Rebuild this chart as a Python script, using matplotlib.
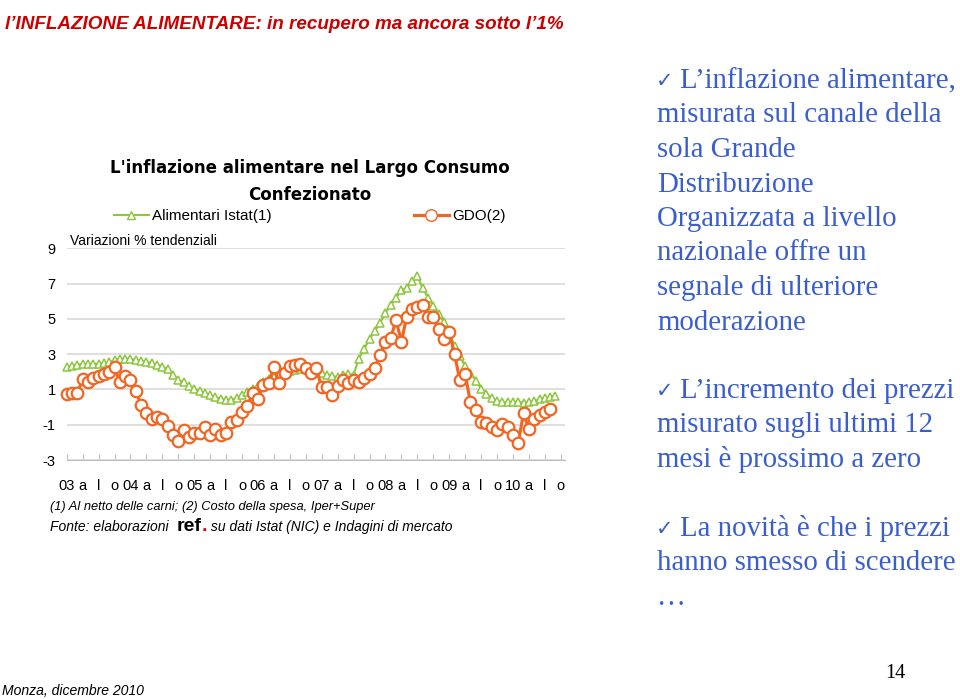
import numpy as np
import matplotlib
matplotlib.use("Agg")
import matplotlib.pyplot as plt
from matplotlib.lines import Line2D

plt.rcParams['axes.unicode_minus'] = False
plt.rcParams['font.family'] = ['Liberation Sans', 'DejaVu Sans']

# variazioni % tendenziali, mensili da gen 2003
istat = [2.25, 2.34, 2.40, 2.43, 2.45, 2.45, 2.45, 2.49, 2.53, 2.68,
         2.74, 2.74, 2.72, 2.68, 2.62, 2.57, 2.49, 2.40, 2.28, 2.15,
         1.80, 1.55, 1.40, 1.20, 1.05, 0.92, 0.80, 0.67, 0.57, 0.47,
         0.42, 0.42, 0.50, 0.69, 0.88, 1.04, 1.20, 1.40, 1.58, 1.72,
         1.83, 1.96, 2.06, 2.11, 2.15, 2.15, 2.10, 2.00, 1.93, 1.84,
         1.74, 1.71, 1.84, 1.88, 1.84, 2.75, 3.30, 3.86, 4.30, 4.77,
         5.34, 5.77, 6.19, 6.62, 6.75, 7.13, 7.42, 6.75, 6.20, 5.75,
         5.30, 4.80, 4.30, 3.45, 2.90, 2.30, 1.95, 1.50, 1.05, 0.75,
         0.50, 0.32, 0.27, 0.27, 0.27, 0.30, 0.23, 0.27, 0.33, 0.45,
         0.50, 0.57, 0.65]
gdo = [0.72, 0.81, 0.81, 1.57, 1.43, 1.66, 1.75, 1.85, 1.97, 2.25,
       1.43, 1.75, 1.53, 0.92, 0.11, -0.33, -0.65, -0.56, -0.70, -1.08,
       -1.59, -1.93, -1.31, -1.72, -1.46, -1.46, -1.12, -1.59, -1.27, -1.59,
       -1.46, -0.87, -0.75, -0.27, 0.05, 0.77, 0.43, 1.24, 1.34, 2.28,
       1.34, 1.94, 2.30, 2.36, 2.42, 2.19, 1.94, 2.19, 1.12, 1.12,
       0.68, 1.19, 1.53, 1.34, 1.53, 1.40, 1.63, 1.87, 2.19, 2.95,
       3.71, 3.90, 4.94, 3.71, 5.12, 5.54, 5.65, 5.79, 5.12, 5.12,
       4.43, 3.84, 4.27, 3.01, 1.53, 1.87, 0.27, -0.17, -0.83, -0.92,
       -1.11, -1.30, -0.96, -1.11, -1.59, -2.02, -0.36, -1.26, -0.70, -0.45,
       -0.26, -0.13]
anni = ['03', '04', '05', '06', '07', '08', '09', '10']
mesi = ['a', 'l', 'o']
x_labels = []
for a in anni:
    x_labels += [a] + mesi
y_ticks = [-3, -1, 1, 3, 5, 7, 9]

green = '#8dc63f'
orange = '#f26522'
blue = '#3a5fcd'

W, H = 960, 699
fig = plt.figure(figsize=(W / 100, H / 100), dpi=100)

def fx(px):
    return px / W

def fy(py):
    return 1 - py / H

def fit_width(t, target):
    # riscala il font per avere la larghezza voluta (in pixel)
    fig.canvas.draw()
    w = t.get_window_extent(fig.canvas.get_renderer()).width
    t.set_fontsize(t.get_fontsize() * target / w)

ax = fig.add_axes([fx(66.7), fy(460), fx(565 - 66.7), (460 - 248.3) / H])
ax.plot(range(len(istat)), istat, color=green, lw=1.5, marker='^', ms=6,
        mfc='white', mec=green, mew=1.1, clip_on=False, zorder=3)
ax.plot(range(len(gdo)), gdo, color=orange, lw=2.3, marker='o', ms=8.3,
        mfc='white', mec=orange, mew=1.6, clip_on=False, zorder=4)

ax.set_xlim(0, 93.8)
ax.set_ylim(-3, 9)
ax.set_yticks(y_ticks)
ax.set_yticklabels([str(v) for v in y_ticks], fontsize=10.5)
ax.set_xticks(np.arange(0, 3 * len(x_labels), 3))
ax.set_xticklabels(x_labels, fontsize=10.5)
ax.tick_params(axis='y', length=0, pad=8)
ax.tick_params(axis='x', direction='in', length=4, color='#bfbfbf', pad=14)
for s in ['top', 'right', 'left']:
    ax.spines[s].set_visible(False)
ax.spines['bottom'].set_color('#bfbfbf')
ax.set_axisbelow(True)
ax.yaxis.grid(True, color='#d9d9d9', lw=1.2)

# titoli del grafico
fig.text(fx(310), fy(168), "L'inflazione alimentare nel Largo Consumo",
         family='DejaVu Sans', weight='bold', fontsize=12, ha='center', va='center')
fig.text(fx(310), fy(195), "Confezionato",
         family='DejaVu Sans', weight='bold', fontsize=12, ha='center', va='center')
fig.text(fx(70), fy(241), "Variazioni % tendenziali", fontsize=10, va='center')

handles = [Line2D([], [], color=green, lw=1.5, marker='^', ms=6, mfc='white', mec=green),
           Line2D([], [], color=orange, lw=2.3, marker='o', ms=8.3, mfc='white', mec=orange)]
fig.legend(handles, ['Alimentari Istat(1)', 'GDO(2)'], loc='center left',
           bbox_to_anchor=(fx(100), fy(216)), ncol=2, frameon=False,
           fontsize=11, handlelength=2.3, handletextpad=0.2, columnspacing=9.3)

# note
fig.text(fx(50), fy(507), "(1) Al netto delle carni; (2) Costo della spesa, Iper+Super",
         fontsize=9.3, style='italic', va='center')
fig.canvas.draw()
r = fig.canvas.get_renderer()
t1 = fig.text(fx(50), fy(531), "Fonte: elaborazioni ", fontsize=10, style='italic', va='baseline')
x_next = t1.get_window_extent(r).x1 + 4
t2 = fig.text(x_next / W, fy(531), "ref", fontsize=14, weight='bold', va='baseline')
x_next = t2.get_window_extent(r).x1
t3 = fig.text(x_next / W, fy(531), ".", fontsize=14, weight='bold', color='#e00000', va='baseline')
x_next = t3.get_window_extent(r).x1
fig.text(x_next / W, fy(531), " su dati Istat (NIC) e Indagini di mercato",
         fontsize=10, style='italic', va='baseline')

# titolo della slide
titolo = fig.text(fx(5), fy(29), "l’INFLAZIONE ALIMENTARE: in recupero ma ancora sotto l’1%",
                  family=['Liberation Sans', 'DejaVu Sans'], fontsize=21,
                  weight='bold', style='italic', color='#cc0000', va='baseline')
fit_width(titolo, 560)

# testo a destra
blocchi = [
    ["L’inflazione alimentare,", "misurata sul canale della", "sola Grande",
     "Distribuzione", "Organizzata a livello", "nazionale offre un",
     "segnale di ulteriore", "moderazione"],
    ["L’incremento dei prezzi", "misurato sugli ultimi 12", "mesi è prossimo a zero"],
    ["La novità è che i prezzi", "hanno smesso di scendere", "…"],
]
basi = [88, 398, 536]
for righe, b in zip(blocchi, basi):
    fig.text(fx(656), fy(b - 1), "✓", family='DejaVu Sans', fontsize=15,
             weight='bold', color=blue, va='baseline')
    for k, riga in enumerate(righe):
        x0 = 680 if k == 0 else 657
        fig.text(fx(x0), fy(b + 34.5 * k), riga, family='Liberation Serif',
                 fontsize=20.8, color=blue, va='baseline')

fig.text(fx(885), fy(678), "14", family='Liberation Serif', fontsize=14.5, va='baseline')
monza = fig.text(fx(2), fy(695), "Monza, dicembre 2010",
                 family=['Liberation Sans', 'DejaVu Sans'], fontsize=10,
                 style='italic', va='baseline')
fit_width(monza, 143)

fig.savefig('out.png', dpi=100)
